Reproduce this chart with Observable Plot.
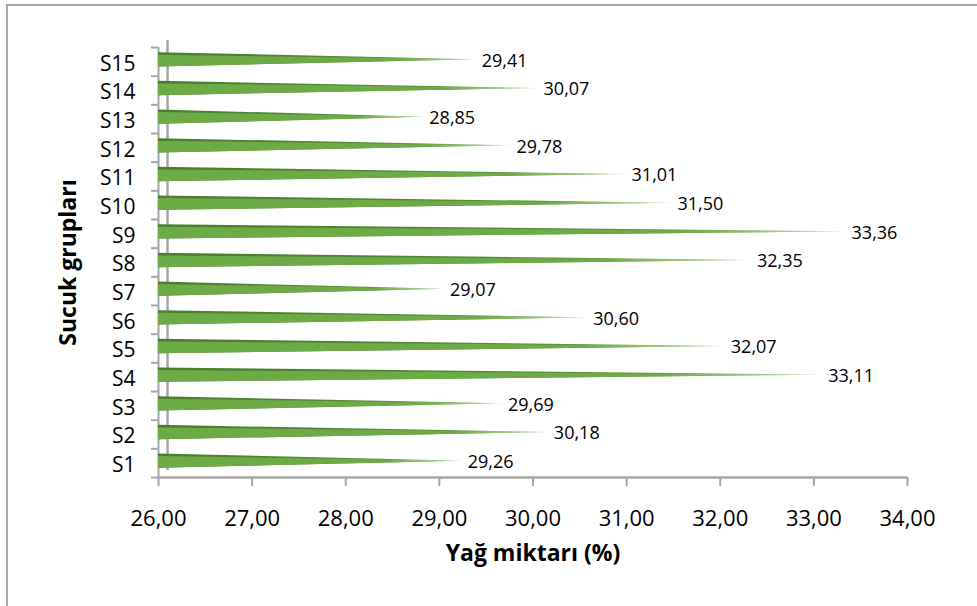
<!DOCTYPE html>
<html>
<head>
<meta charset="utf-8">
<script src="https://cdn.jsdelivr.net/npm/d3@7"></script>
<script src="https://cdn.jsdelivr.net/npm/@observablehq/plot@0.6"></script>
<style>
  html, body { margin: 0; padding: 0; background: #fff; }
  #wrap { position: relative; width: 977px; height: 606px; overflow: hidden; font-family: "Open Sans", sans-serif; }
  #frame { position: absolute; left: 6px; top: 4px; width: 1000px; height: 700px; border-top: 2px solid #a8a8a8; border-left: 2px solid #a8a8a8; }
  #chart { position: absolute; left: 0; top: 0; }
</style>
</head>
<body>
<div id="wrap"><div id="frame"></div><div id="chart"></div></div>
<script>
// ---- data ----
const categories = ["S1","S2","S3","S4","S5","S6","S7","S8","S9","S10","S11","S12","S13","S14","S15"];
const values = [29.26, 30.18, 29.69, 33.11, 32.07, 30.60, 29.07, 32.35, 33.36, 31.50, 31.01, 29.78, 28.85, 30.07, 29.41];
const xTicks = [26, 27, 28, 29, 30, 31, 32, 33, 34];
const xTitle = "Yağ miktarı (%)";
const yTitle = "Sucuk grupları";

const fmt = v => v.toFixed(2).replace(".", ",");
const rows = categories.map((c, k) => ({cat: c, i: k + 1, v: values[k]}));
const base = xTicks[0];
const h = 0.25;      // half thickness of a cone (band units)
const d = 0.09;      // top face thickness

const darkPts = rows.flatMap(r => [
  {cat: r.cat, y: r.i - h, x: base},
  {cat: r.cat, y: r.i, x: r.v},
  {cat: r.cat, y: r.i + h, x: base}
]);
const lightPts = rows.flatMap(r => [
  {cat: r.cat, y: r.i - h, x: base},
  {cat: r.cat, y: r.i, x: r.v},
  {cat: r.cat, y: r.i + h - d, x: base}
]);

const defs = () => {
  const ns = "http://www.w3.org/2000/svg";
  const g = document.createElementNS(ns, "defs");
  const mk = (id, stops) => {
    const lg = document.createElementNS(ns, "linearGradient");
    lg.setAttribute("id", id);
    lg.setAttribute("x1", "0"); lg.setAttribute("x2", "1");
    lg.setAttribute("y1", "0"); lg.setAttribute("y2", "0");
    for (const [o, c] of stops) {
      const s = document.createElementNS(ns, "stop");
      s.setAttribute("offset", o); s.setAttribute("stop-color", c);
      lg.appendChild(s);
    }
    g.appendChild(lg);
  };
  mk("gLight", [[0, "#6cab46"], [0.75, "#6cab46"], [0.93, "#a9d08e"], [1, "#e6f2de"]]);
  mk("gDark", [[0, "#4a7d2c"], [0.75, "#538c33"], [1, "#cfe5c1"]]);
  return g;
};

const gray = "#a6a6a6";

const chart = Plot.plot({
  width: 977,
  height: 606,
  marginLeft: 158,
  marginRight: 70,
  marginTop: 47,
  marginBottom: 129,
  style: {fontFamily: "Open Sans, sans-serif", color: "#000", background: "transparent"},
  x: {domain: [xTicks[0], xTicks[xTicks.length - 1]]},
  y: {domain: [0.5, categories.length + 0.5]},
  marks: [
    defs,
    // wall (front and back edges)
    Plot.ruleX([base], {y1: 0.5, y2: categories.length + 0.5, stroke: gray, strokeWidth: 2}),
    Plot.ruleX([base], {y1: 0.5, y2: categories.length + 0.5, stroke: gray, strokeWidth: 2.5, dx: 9, dy: -7}),
    // boundary ticks on y
    Plot.axisY({ticks: d3.range(0.5, categories.length + 1, 1), tickSize: 7, tickFormat: () => "", stroke: gray, strokeWidth: 2}),
    // y category labels
    Plot.axisY({ticks: d3.range(1, categories.length + 1), tickSize: 0, tickPadding: 23, tickFormat: i => categories[i - 1], fontSize: 21, label: null, dy: 2}),
    // x axis line + ticks + labels
    Plot.ruleY([0.5], {x1: xTicks[0], x2: xTicks[xTicks.length - 1], stroke: gray, strokeWidth: 2.5}),
    Plot.axisX({ticks: xTicks, tickSize: 9, tickPadding: 24, tickFormat: fmt, fontSize: 22, stroke: gray, strokeWidth: 2, label: null}),
    // cones
    Plot.areaX(darkPts, {y: "y", x1: base, x2: "x", z: "cat", fill: "url(#gDark)", dy: -2}),
    Plot.areaX(lightPts, {y: "y", x1: base, x2: "x", z: "cat", fill: "url(#gLight)", dy: -2}),
    // value labels
    Plot.text(rows, {x: "v", y: "i", text: r => fmt(r.v), textAnchor: "start", dx: 4, dy: -1, fontSize: 18, fill: "#000"}),
    // titles
    Plot.text([xTitle], {frameAnchor: "bottom", lineAnchor: "middle", textAnchor: "middle", dy: 76, text: t => t, fontSize: 23, fontWeight: "bold", fill: "#000"}),
    Plot.text([yTitle], {frameAnchor: "left", lineAnchor: "middle", textAnchor: "middle", dx: -90, rotate: -90, text: t => t, fontSize: 23, fontWeight: "bold", fill: "#000"})
  ]
});
document.getElementById("chart").appendChild(chart);
</script>
</body>
</html>
